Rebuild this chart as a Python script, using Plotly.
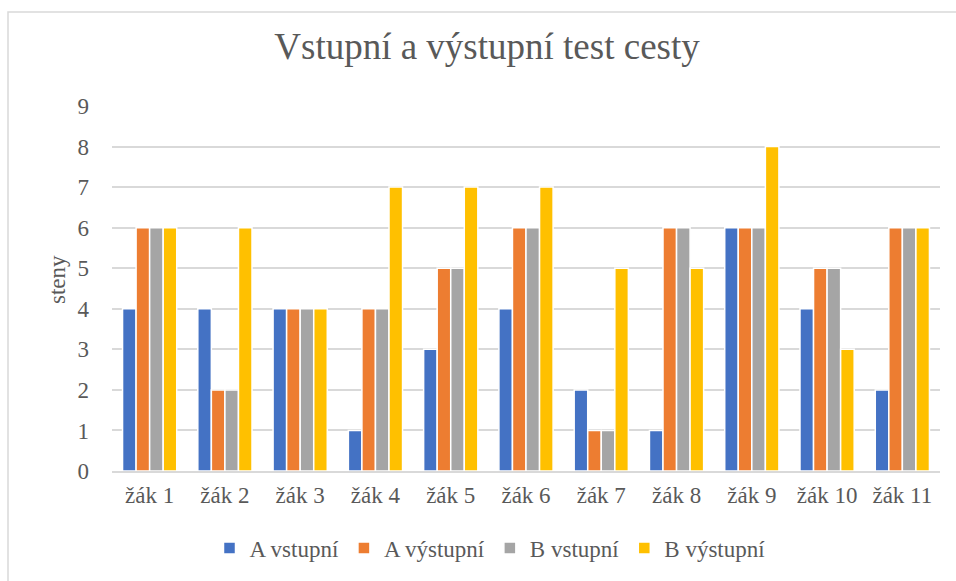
import plotly.graph_objects as go

categories = ["žák 1", "žák 2", "žák 3", "žák 4", "žák 5", "žák 6", "žák 7", "žák 8", "žák 9", "žák 10", "žák 11"]
a_vstupni = [4, 4, 4, 1, 3, 4, 2, 1, 6, 4, 2]
a_vystupni = [6, 2, 4, 4, 5, 6, 1, 6, 6, 5, 6]
b_vstupni = [6, 2, 4, 4, 5, 6, 1, 6, 6, 5, 6]
b_vystupni = [6, 6, 4, 7, 7, 7, 5, 5, 8, 3, 6]
series_names = ["A vstupní", "A výstupní", "B vstupní", "B výstupní"]
colors = ["#4472C4", "#ED7D31", "#A5A5A5", "#FFC000"]
y_ticks = list(range(0, 10))
y_title = "steny"
chart_title = "Vstupní a výstupní test cesty"

FONT = "Liberation Serif, Times New Roman, serif"
TXT = "#595959"
FS = 23

fig = go.Figure()
for name, vals, c in zip(series_names, [a_vstupni, a_vystupni, b_vstupni, b_vystupni], colors):
    fig.add_trace(go.Bar(x=categories, y=vals, name=name,
                         marker=dict(color=c, line=dict(color="white", width=1.5))))

W, H = 956, 581
L, R, T, B = 112, 16, 106, 110
pw = W - L - R
ph = H - T - B

def px_x(p):
    return (p - L) / pw

def px_y(p):
    return (H - B - p) / ph

fig.update_layout(
    width=W, height=H,
    margin=dict(l=L, r=R, t=T, b=B, autoexpand=False),
    paper_bgcolor="white", plot_bgcolor="white",
    font=dict(family=FONT, color=TXT, size=FS),
    barmode="group", bargap=0.28, bargroupgap=0,
    title=dict(text=chart_title, font=dict(family=FONT, size=37, color=TXT),
               x=487 / W, xref="container", xanchor="center",
               y=1 - 46 / H, yref="container", yanchor="middle"),
    legend=dict(orientation="h", x=px_x(490), xanchor="center", y=px_y(548), yanchor="middle",
                font=dict(family=FONT, size=FS, color=TXT), itemwidth=30, traceorder="normal"),
    showlegend=True,
)
fig.update_xaxes(showgrid=False, showline=True, linecolor="#D9D9D9", linewidth=2,
                 ticks="", tickfont=dict(family=FONT, size=FS, color=TXT), ticklabelstandoff=2)
fig.update_yaxes(range=[0, 9], tickvals=y_ticks, showgrid=True, gridcolor="#D9D9D9", gridwidth=2,
                 zeroline=False, showline=False, ticks="",
                 tickfont=dict(family=FONT, size=FS, color=TXT), ticklabelstandoff=22)

fig.add_annotation(text=y_title, xref="paper", yref="paper", x=px_x(57), y=px_y(280),
                   textangle=-90, showarrow=False, xanchor="center", yanchor="middle",
                   font=dict(family=FONT, size=FS, color=TXT))

fig.add_shape(type="rect", xref="paper", yref="paper",
              x0=px_x(8), y0=px_y(600), x1=px_x(990), y1=px_y(12),
              line=dict(color="#D9D9D9", width=1.5), fillcolor="rgba(0,0,0,0)", layer="below")

fig.write_html("out.html", config={"displayModeBar": False},
               post_script="document.body.style.margin='0';document.body.style.overflow='hidden';")
